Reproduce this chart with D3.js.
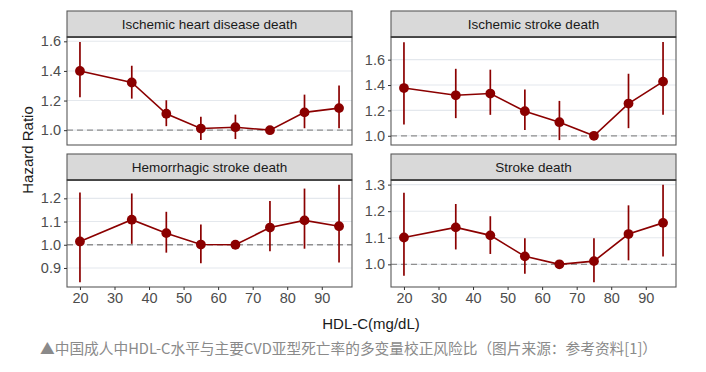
<!DOCTYPE html>
<html><head><meta charset="utf-8">
<script src="https://cdn.jsdelivr.net/npm/d3@7"></script>
<style>
body{margin:0;background:#fff;}
svg{display:block;}
</style></head>
<body>
<svg id="chart" width="706" height="372"></svg>
<script>
const hdl = [20, 35, 45, 55, 65, 75, 85, 95];
const xTicks = [20, 30, 40, 50, 60, 70, 80, 90];

const ihdHR = [1.40, 1.322, 1.111, 1.011, 1.02, 1.00, 1.12, 1.149];
const ihdLo = [1.222, 1.213, 1.027, 0.933, 0.94, 1.00, 1.013, 1.013];
const ihdHi = [1.596, 1.435, 1.202, 1.091, 1.105, 1.00, 1.24, 1.302];
const ihdTicks = [1.0, 1.2, 1.4, 1.6];

const isHR = [1.376, 1.319, 1.333, 1.194, 1.107, 1.00, 1.254, 1.427];
const isLo = [1.089, 1.139, 1.165, 1.045, 0.966, 1.00, 1.06, 1.165];
const isHi = [1.737, 1.528, 1.521, 1.364, 1.275, 1.00, 1.489, 1.74];
const isTicks = [1.0, 1.2, 1.4, 1.6];

const hsHR = [1.014, 1.108, 1.05, 1.001, 1.00, 1.074, 1.105, 1.08];
const hsLo = [0.839, 1.004, 0.966, 0.92, 1.00, 0.972, 0.983, 0.924];
const hsHi = [1.225, 1.221, 1.142, 1.087, 1.00, 1.189, 1.242, 1.258];
const hsTicks = [0.9, 1.0, 1.1, 1.2];

const sHR = [1.101, 1.139, 1.109, 1.03, 1.00, 1.012, 1.114, 1.156];
const sLo = [0.957, 1.056, 1.039, 0.965, 1.00, 0.933, 1.015, 1.029];
const sHi = [1.269, 1.227, 1.181, 1.098, 1.00, 1.098, 1.222, 1.299];
const sTicks = [1.0, 1.1, 1.2, 1.3];

const panelTitles = ["Ischemic heart disease death", "Ischemic stroke death", "Hemorrhagic stroke death", "Stroke death"];
const xTitle = "HDL-C(mg/dL)";
const yTitle = "Hazard Ratio";
const caption = "▲中国成人中HDL-C水平与主要CVD亚型死亡率的多变量校正风险比（图片来源：参考资料[1]）";

const panels = [
  {title: panelTitles[0], hr: ihdHR, lo: ihdLo, hi: ihdHi, ticks: ihdTicks, col: 0, row: 0},
  {title: panelTitles[1], hr: isHR, lo: isLo, hi: isHi, ticks: isTicks, col: 1, row: 0},
  {title: panelTitles[2], hr: hsHR, lo: hsLo, hi: hsHi, ticks: hsTicks, col: 0, row: 1},
  {title: panelTitles[3], hr: sHR, lo: sLo, hi: sHi, ticks: sTicks, col: 1, row: 1}
];

const svg = d3.select("#chart");
const font = "'Liberation Sans', Arial, Helvetica, sans-serif";
const red = "#8b0000";
const colX = [67, 391];
const panelW = 285;
const stripTop = [11, 154];
const stripH = 26;
const panelH = [108, 107];

const xr = d3.extent(hdl);
const xpad = (xr[1] - xr[0]) * 0.05;

panels.forEach(p => {
  const x0 = colX[p.col];
  const st = stripTop[p.row];
  const y0 = st + stripH;
  const h = panelH[p.row];
  const g = svg.append("g");

  const x = d3.scaleLinear().domain([xr[0] - xpad, xr[1] + xpad]).range([x0, x0 + panelW]);
  const lo = d3.min(p.lo), hi = d3.max(p.hi);
  const ypad = (hi - lo) * 0.05;
  const y = d3.scaleLinear().domain([lo - ypad, hi + ypad]).range([y0 + h, y0]);

  g.append("rect").attr("x", x0).attr("y", y0).attr("width", panelW).attr("height", h).attr("fill", "#fff");

  g.selectAll(".grid").data(p.ticks).join("line")
    .attr("x1", x0).attr("x2", x0 + panelW)
    .attr("y1", d => y(d)).attr("y2", d => y(d))
    .attr("stroke", "#e4e8ed").attr("stroke-width", 1.1);

  g.append("line").attr("x1", x0).attr("x2", x0 + panelW)
    .attr("y1", y(1)).attr("y2", y(1))
    .attr("stroke", "#8f8f8f").attr("stroke-width", 1.3).attr("stroke-dasharray", "6,4");

  g.selectAll(".err").data(hdl).join("line")
    .attr("x1", d => x(d)).attr("x2", d => x(d))
    .attr("y1", (d, i) => y(p.lo[i])).attr("y2", (d, i) => y(p.hi[i]))
    .attr("stroke", red).attr("stroke-width", 1.7);

  const line = d3.line().x((d, i) => x(hdl[i])).y(d => y(d));
  g.append("path").datum(p.hr).attr("d", line).attr("fill", "none")
    .attr("stroke", red).attr("stroke-width", 1.6);

  g.selectAll(".pt").data(p.hr).join("circle")
    .attr("cx", (d, i) => x(hdl[i])).attr("cy", d => y(d)).attr("r", 4.9)
    .attr("fill", red);

  g.append("rect").attr("x", x0).attr("y", y0).attr("width", panelW).attr("height", h)
    .attr("fill", "none").attr("stroke", "#595959").attr("stroke-width", 1.1);

  g.append("rect").attr("x", x0).attr("y", st).attr("width", panelW).attr("height", stripH)
    .attr("fill", "#d9d9d9").attr("stroke", "#595959").attr("stroke-width", 1.1);
  g.append("line").attr("x1", x0).attr("x2", x0 + panelW).attr("y1", y0).attr("y2", y0)
    .attr("stroke", "#333").attr("stroke-width", 1.4);
  g.append("text").attr("x", x0 + panelW / 2).attr("y", st + stripH / 2)
    .attr("text-anchor", "middle").attr("dominant-baseline", "central")
    .attr("font-family", font).attr("font-size", 13.5).attr("fill", "#1a1a1a").text(p.title);

  const ya = d3.axisLeft(y).tickValues(p.ticks).tickFormat(d3.format(".1f")).tickSize(3).tickPadding(3);
  const yg = svg.append("g").attr("transform", `translate(${x0},0)`).call(ya);
  yg.select(".domain").remove();
  yg.selectAll("line").attr("stroke", "#333");
  yg.selectAll("text").attr("font-family", font).attr("font-size", 14.5).attr("fill", "#4d4d4d");

  if (p.row === 1) {
    const xa = d3.axisBottom(x).tickValues(xTicks).tickSize(3).tickPadding(3);
    const xg = svg.append("g").attr("transform", `translate(0,${y0 + h})`).call(xa);
    xg.select(".domain").remove();
    xg.selectAll("line").attr("stroke", "#333");
    xg.selectAll("text").attr("font-family", font).attr("font-size", 14.5).attr("fill", "#4d4d4d");
  }
});

svg.append("text").attr("transform", "translate(27,150) rotate(-90)")
  .attr("text-anchor", "middle").attr("dominant-baseline", "central")
  .attr("font-family", font).attr("font-size", 15).attr("fill", "#1a1a1a").text(yTitle);
svg.append("text").attr("x", 371).attr("y", 323)
  .attr("text-anchor", "middle").attr("dominant-baseline", "central")
  .attr("font-family", font).attr("font-size", 15).attr("fill", "#1a1a1a").text(xTitle);

svg.append("text").attr("x", 40).attr("y", 347)
  .attr("dominant-baseline", "central")
  .attr("font-family", "'Noto Sans CJK SC', sans-serif").attr("font-size", 14.7).attr("fill", "#8a8a8a").text(caption);
</script>
</body></html>
